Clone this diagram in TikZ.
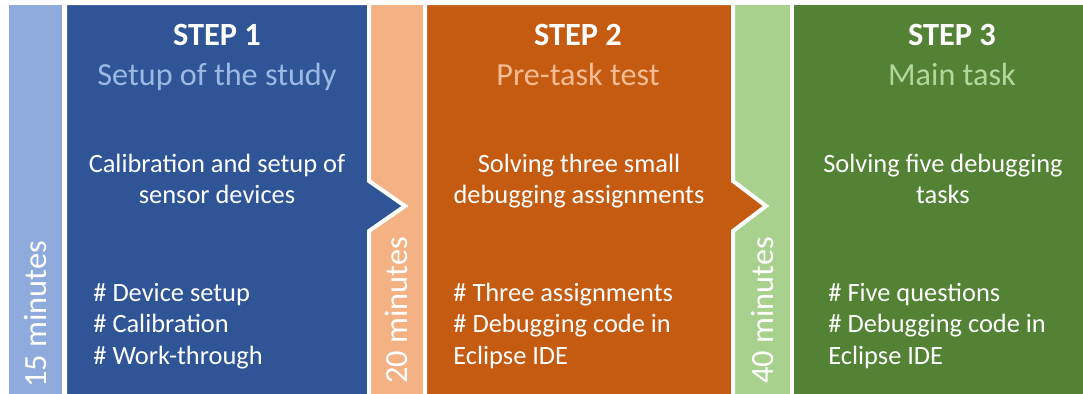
\documentclass[tikz,border=0pt]{standalone}
\usepackage{fontspec}
\setmainfont{Carlito}
\usetikzlibrary{positioning, calc}
\definecolor{stepblue}{HTML}{2F5597}
\definecolor{lightblue}{HTML}{8FAADC}
\definecolor{subblue}{HTML}{9DB8E3}
\definecolor{steporange}{HTML}{C55A11}
\definecolor{lightorange}{HTML}{F4B183}
\definecolor{suborange}{HTML}{F6BC94}
\definecolor{stepgreen}{HTML}{548235}
\definecolor{lightgreen}{HTML}{A9D18E}
\definecolor{subgreen}{HTML}{B3D79B}

\tikzset{
  panel/.style={draw=white, line width=2pt, line join=miter},
  steptitle/.style={font=\fontsize{16.2}{19}\selectfont\bfseries, text=white, inner sep=0pt, anchor=base},
  stepsub/.style={font=\fontsize{16.1}{19}\selectfont, inner sep=0pt, anchor=base},
  steptext/.style={font=\fontsize{13.2}{15.4}\selectfont, text=white, inner sep=0pt, align=center, anchor=base},
  steplist/.style={font=\fontsize{13.2}{15.6}\selectfont, text=white, inner sep=0pt, align=left, anchor=base west},
  duration/.style={font=\fontsize{16.2}{19}\selectfont, text=white, inner sep=0pt, rotate=90, anchor=west},
}

\begin{document}
\begin{tikzpicture}[x=0.5pt, y=-0.5pt]
  \useasboundingbox (0,0) rectangle (1083,393);

  % time strips
  \fill[white] (0,0) rectangle (1083,393);
  \filldraw[panel, fill=lightblue]   (7,3)   rectangle (64,396);
  \filldraw[panel, fill=lightorange] (369,3) rectangle (425,396);
  \filldraw[panel, fill=lightgreen]  (733,3) rectangle (792,396);

  % step panels
  \filldraw[panel, fill=stepblue] (65,3) -- (369,3) -- (369,181) -- (405,206)
    -- (369,231) -- (369,396) -- (65,396) -- cycle;
  \filldraw[panel, fill=steporange] (425,3) -- (733,3) -- (733,181) -- (766,206)
    -- (733,231) -- (733,396) -- (425,396) -- cycle;
  \filldraw[panel, fill=stepgreen] (792,3) -- (1090,3) -- (1090,396) -- (792,396) -- cycle;

  % durations
  \node[duration] (time1) at (35,388) {15 minutes};
  \node[duration] (time2) at (396,384) {20 minutes};
  \node[duration] (time3) at (762,384) {40 minutes};

  % step 1 (multi-line nodes sit on their last line)
  \node[steptitle] (title1) at (217,45) {STEP 1};
  \node[stepsub, text=subblue] (sub1) at (217,85) {Setup of the study};
  \node[steptext] (body1) at (217,203) {Calibration and setup of\\sensor devices};
  \node[steplist] (list1) at (93,364) {\# Device setup\\\# Calibration\\\# Work-through};

  % step 2
  \node[steptitle] (title2) at (578,45) {STEP 2};
  \node[stepsub, text=suborange] (sub2) at (578,85) {Pre-task test};
  \node[steptext] (body2) at (579,203) {Solving three small\\debugging assignments};
  \node[steplist] (list2) at (453,364) {\# Three assignments\\\# Debugging code in\\Eclipse IDE};

  % step 3
  \node[steptitle] (title3) at (952,45) {STEP 3};
  \node[stepsub, text=subgreen] (sub3) at (952,85) {Main task};
  \node[steptext] (body3) at (943,203) {Solving five debugging\\tasks};
  \node[steplist] (list3) at (828,364) {\# Five questions\\\# Debugging code in\\Eclipse IDE};
\end{tikzpicture}
\end{document}
